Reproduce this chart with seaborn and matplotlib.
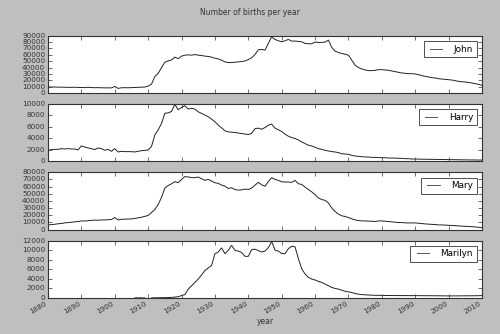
import numpy as np
import pandas as pd
import matplotlib
matplotlib.use("Agg")
import matplotlib.pyplot as plt
import seaborn as sns

years = list(range(1880, 2011))

john = [
    9700, 9500, 9600, 9300, 9400, 9100, 9200, 8900, 9300, 8800,
    8900, 8600, 9200, 8700, 8500, 8600, 8400, 8200, 8300, 8100,
    10500, 7400, 8400, 8500, 8400, 8600, 8700, 8900, 9200, 9500,
    11000, 14000, 26000, 31000, 40000, 48500, 50500, 52000, 56500, 54000,
    58000, 59500, 60000, 59500, 60500, 59500, 59000, 58000, 57500, 56500,
    54700, 53700, 51600, 49000, 47900, 47900, 48400, 48800, 49500, 50500,
    52600, 55500, 60500, 68000, 68500, 67400, 78000, 88400, 84200, 82100,
    80500, 82100, 84200, 81600, 81600, 81000, 80500, 77900, 77400, 77400,
    80000, 79500, 79500, 80000, 83200, 71600, 65800, 63700, 62100, 61000,
    59500, 51600, 43700, 40000, 37900, 36300, 35300, 35300, 35800, 36800,
    36800, 36300, 35800, 34700, 33700, 32600, 31600, 31000, 30500, 30500,
    30000, 28900, 27400, 26300, 25300, 24200, 23700, 22600, 22100, 21600,
    21000, 20500, 19500, 18400, 17900, 17400, 16800, 15800, 14700, 13700, 12100,
]

harry = [
    1930, 2050, 2100, 2100, 2220, 2160, 2220, 2160, 2160, 2000,
    2700, 2500, 2340, 2220, 2050, 2340, 2220, 1930, 2100, 1750,
    2220, 1640, 1750, 1700, 1700, 1700, 1640, 1750, 1870, 1900,
    2000, 2600, 4600, 5500, 6600, 8400, 8450, 8700, 9950, 9000,
    9400, 9700, 9120, 9240, 9120, 8650, 8360, 8070, 7780, 7370,
    6900, 6320, 5850, 5320, 5150, 5090, 5030, 4940, 4850, 4770,
    4680, 4900, 5700, 5800, 5600, 5900, 6300, 6500, 5800, 5500,
    5200, 4750, 4390, 4150, 3980, 3740, 3390, 3100, 2810, 2690,
    2460, 2220, 2100, 1930, 1810, 1700, 1640, 1520, 1340, 1280,
    1230, 1050, 940, 880, 820, 760, 760, 700, 700, 670,
    640, 640, 580, 580, 580, 530, 530, 470, 470, 410,
    410, 390, 380, 370, 350, 340, 330, 320, 310, 300,
    290, 285, 280, 275, 270, 265, 260, 255, 250, 240, 230,
]

mary = [
    6600, 7000, 7500, 8200, 8600, 9400, 9800, 10300, 10900, 11300,
    12200, 12000, 12500, 13000, 13200, 13200, 13500, 13600, 13900, 14100,
    16900, 13600, 14500, 14600, 14800, 15000, 15600, 16400, 17300, 18500,
    19800, 24000, 28000, 35000, 45000, 58000, 61500, 64000, 67000, 65500,
    70000, 74000, 73500, 72500, 72500, 73400, 71100, 68700, 70100, 67800,
    65400, 64500, 62100, 60700, 57400, 58400, 56000, 55100, 55500, 56500,
    56000, 58000, 62000, 66000, 62500, 60500, 67000, 72500, 70100, 68700,
    66800, 66400, 66400, 65900, 68700, 64000, 63100, 59300, 56000, 52700,
    48900, 44200, 41900, 40900, 37200, 30100, 25400, 21600, 19300, 18400,
    16900, 15100, 13600, 12700, 12200, 12200, 11800, 11800, 11300, 12200,
    12200, 11800, 11300, 10800, 10400, 9900, 9900, 9400, 9400, 9400,
    9400, 8900, 8500, 8000, 7700, 7500, 7100, 6600, 6600, 6300,
    6100, 5800, 5600, 5200, 4900, 4700, 4400, 4200, 3800, 3300, 2800,
]

nan = np.nan
marilyn = [nan] * 26 + [
    5, 6, 8, 9,
    nan, 11, 20, 35, 45, 60, 80, 110, 180, 250,
    490, 700, 1840, 2540, 3250, 3950, 4800, 5720, 6280, 6780,
    9250, 9600, 10450, 9250, 9950, 11000, 9950, 9800, 9500, 8700,
    8700, 10100, 10200, 9900, 9600, 9800, 10500, 11800, 10000, 9800,
    9300, 9250, 10300, 10800, 10700, 8200, 6100, 5000, 4300, 3950,
    3750, 3450, 3250, 2900, 2550, 2200, 1980, 1840, 1620, 1400,
    1270, 1130, 920, 780, 700, 640, 620, 570, 550, 540,
    530, 520, 510, 500, 500, 490, 490, 490, 480, 480,
    480, 480, 470, 470, 460, 460, 450, 450, 440, 430,
    420, 420, 430, 430, 440, 440, 450, 450, 460, 470, 490,
]

names = ["John", "Harry", "Mary", "Marilyn"]
series = [john, harry, mary, marilyn]
ylims = [90000, 10000, 80000, 12000]
ysteps = [10000, 2000, 10000, 2000]
xticks = list(range(1880, 2011, 10))

plt.style.use("classic")
plt.rcParams["font.family"] = ["DejaVu Sans"]

fig, axes = plt.subplots(4, 1, figsize=(5, 3.34), dpi=100, sharex=True,
                         facecolor="#bfbfbf")
fig.subplots_adjust(left=0.096, right=0.964, top=0.893, bottom=0.108, hspace=0.19)

for ax, name, vals, ymax, step in zip(axes, names, series, ylims, ysteps):
    df = pd.DataFrame({"year": years, "births": vals})
    df["seg"] = df["births"].isna().cumsum()
    df = df.dropna()
    sns.lineplot(data=df, x="year", y="births", units="seg", estimator=None,
                 ax=ax, color="#222222", linewidth=0.7, legend=False)
    ax.plot([], [], color="#555555", linewidth=0.7, label=name)
    ax.set_xlim(1880, 2010)
    ax.set_ylim(0, ymax)
    ax.set_yticks(np.arange(0, ymax + 1, step))
    ax.set_xticks(xticks)
    ax.set_ylabel("")
    ax.set_xlabel("")
    ax.tick_params(axis="both", which="major", labelsize=5.2, direction="in",
                   length=3, width=0.5, top=True, right=True, colors="#333333",
                   pad=2)
    for sp in ax.spines.values():
        sp.set_linewidth(0.8)
        sp.set_color("#333333")
    leg = ax.legend(loc="upper right", fontsize=6.4, handlelength=2.0,
                    handletextpad=1.0, borderpad=0.4, borderaxespad=0.6,
                    fancybox=False)
    leg.get_frame().set_linewidth(0.6)
    leg.get_frame().set_edgecolor("#333333")

axes[-1].set_xlabel("year", fontsize=5.5, color="#333333", labelpad=1)
for lab in axes[-1].get_xticklabels():
    lab.set_rotation(30)
    lab.set_ha("right")

fig.suptitle("Number of births per year", fontsize=5.5, y=0.975, color="#333333")

fig.savefig("out.png", dpi=100, facecolor="#bfbfbf")
